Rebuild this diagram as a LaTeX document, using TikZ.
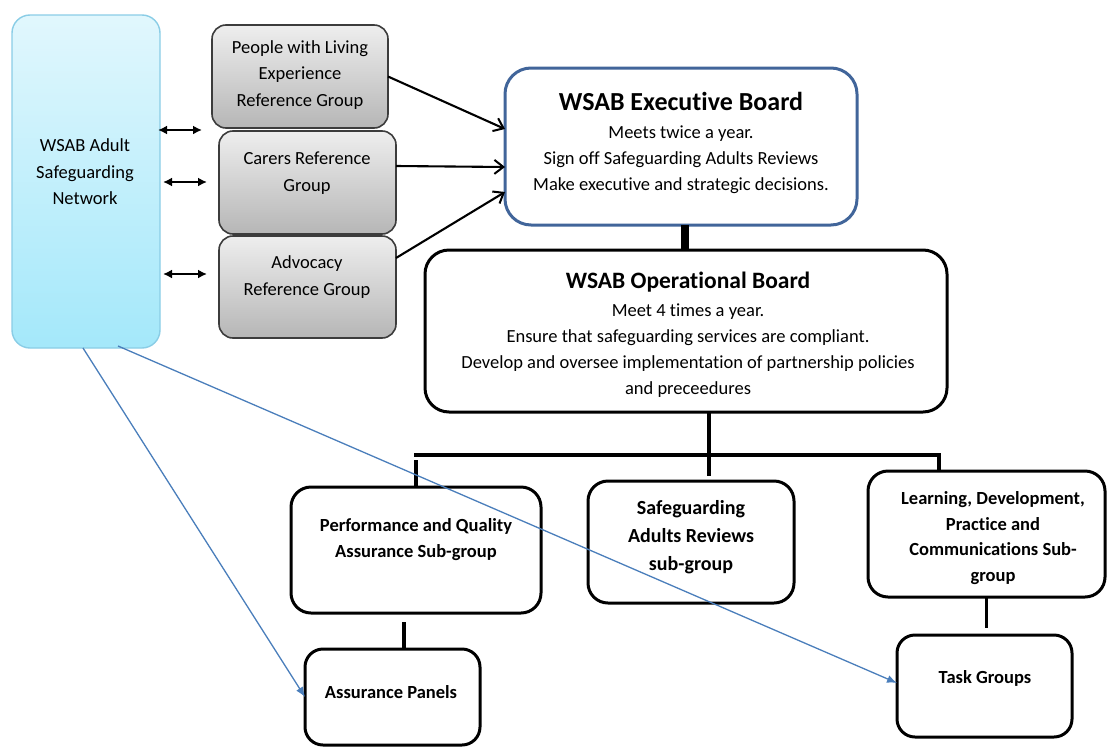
\documentclass[tikz,border=0pt]{standalone}
\usepackage{fontspec}
\setmainfont{Carlito}[Ligatures=NoCommon]
\usetikzlibrary{arrows.meta,fit}
\definecolor{netTop}{HTML}{E1F7FD}
\definecolor{netBot}{HTML}{A4E8FA}
\definecolor{netLine}{HTML}{8ACDE6}
\definecolor{refTop}{HTML}{EEEEEE}
\definecolor{refBot}{HTML}{B6B6B6}
\definecolor{refLine}{HTML}{3C3C3C}
\definecolor{execLine}{HTML}{41659A}
\definecolor{linkBlue}{HTML}{4A7EBB}
\begin{document}
\begin{tikzpicture}[x=1pt,y=-1pt,
  every node/.style={inner sep=0pt,outer sep=0pt},
  frame/.style={fit={#1},inner sep=0pt,draw=black,line width=3pt,rounded corners=20pt,fill=white},
  netbox/.style={frame={#1},draw=netLine,line width=1.4pt,rounded corners=18pt,top color=netTop,bottom color=netBot},
  refbox/.style={frame={#1},draw=refLine,line width=1.6pt,rounded corners=14pt,top color=refTop,bottom color=refBot},
  plain/.style={align=center,text=black,font=\fontsize{18.5}{26.5}\selectfont},
  boldtext/.style={align=center,text=black,font=\bfseries\fontsize{18.5}{26}\selectfont},
  link/.style={line width=3.4pt,line cap=butt},
  feed/.style={line width=2.1pt,-{Straight Barb[length=9pt,width=14pt,line width=2pt]}},
  both/.style={line width=2.2pt,{Latex[length=9pt,width=9pt]}-{Latex[length=9pt,width=9pt]}},
  bluelink/.style={draw=linkBlue,line width=1.3pt,-{Latex[length=10pt,width=8pt]}}
]
\useasboundingbox (0,0) rectangle (1107,747);

% network column and reference groups
\node[netbox={(12,15) (160,348)}] (net) {};
\node[refbox={(212,25) (388,128)}] (people) {};
\node[refbox={(219,131) (396,234)}] (carers) {};
\node[refbox={(219,236) (396,338)}] (advocacy) {};

\node[plain] (netT) at (85,172) {WSAB Adult\\Safeguarding\\Network};
\node[plain] (peopleT) at (300,75) {People with Living\\Experience\\Reference Group};
\node[plain,font=\fontsize{18.5}{27}\selectfont] (carersT) at (307,173) {Carers Reference\\Group};
\node[plain,font=\fontsize{18.5}{27}\selectfont] (advocacyT) at (307,277) {Advocacy\\Reference Group};

% boards
\node[frame={(505,68) (857,225)},draw=execLine,line width=3pt,rounded corners=26pt] (exec) {};
\node[boldtext,font=\bfseries\fontsize{26}{30}\selectfont] (execTitle) at (681,101) {WSAB Executive Board};
\node[plain,font=\fontsize{18.5}{25.8}\selectfont] (execT) at (681,160) {Meets twice a year.\\Sign off Safeguarding Adults Reviews\\Make executive and strategic decisions.};

\node[frame={(425,250) (947,412)},rounded corners=24pt] (op) {};
\node[boldtext,font=\bfseries\fontsize{23.5}{28}\selectfont] (opTitle) at (688,282) {WSAB Operational Board};
\node[plain,font=\fontsize{18.5}{26}\selectfont] (opT) at (688,351) {Meet 4 times a year.\\Ensure that safeguarding services are compliant.\\Develop and oversee implementation of partnership policies\\and preceedures};

% sub-groups
\node[frame={(291,487) (541,613)}] (perf) {};
\node[boldtext] (perfT) at (416,540) {Performance and Quality\\Assurance Sub-group};
\node[frame={(588,481) (794,603)}] (sar) {};
\node[boldtext,font=\bfseries\fontsize{20}{28}\selectfont] (sarT) at (691,537) {Safeguarding\\Adults Reviews\\sub-group};
\node[frame={(868,471) (1105,597)}] (learn) {};
\node[boldtext,font=\bfseries\fontsize{18.5}{25.5}\selectfont] (learnT) at (993,538) {Learning, Development,\\Practice and\\Communications Sub-\\group};

% groups below
\node[frame={(305,649) (480,745)},rounded corners=18pt] (assur) {};
\node[boldtext] (assurT) at (391,692) {Assurance Panels};
\node[frame={(897,635) (1072,737)},rounded corners=18pt] (task) {};
\node[boldtext] (taskT) at (985,678) {Task Groups};

% two-way links between the network and the reference groups
\coordinate (a1) at (158,130); \coordinate (b1) at (202,130);
\coordinate (a2) at (163,182); \coordinate (b2) at (207,182);
\coordinate (a3) at (163,274); \coordinate (b3) at (207,274);
\draw[both] (a1) -- (b1);
\draw[both] (a2) -- (b2);
\draw[both] (a3) -- (b3);

% reference groups feed the executive board
\draw[feed] (people.east) -- ([yshift=17.5pt]exec.west);
\draw[feed] ([yshift=16.5pt]carers.east) -- ([yshift=-20.5pt]exec.west);
\draw[feed] ([yshift=29pt]advocacy.east) -- ([yshift=-45.5pt]exec.west);

% executive to operational
\draw[line width=8pt] ([xshift=4pt]exec.south) -- ([xshift=4pt]exec.south |- op.north);

% operational board to the sub-groups
\coordinate (busL) at (416,455);
\coordinate (busM) at (709,455);
\coordinate (busR) at (939,455);
\draw[link] ([xshift=-1.7pt]busL) -- ([xshift=1.7pt]busR);
\draw[link] ([yshift=-5pt]busL) -- (perf.north -| busL);
\draw[link] (busR) -- (learn.north -| busR);
\draw[link] (op.south -| busM) -- (busM) -- ([yshift=5pt]sar.north -| busM);

% sub-groups to their groups
\draw[link] ([xshift=-12pt,yshift=-9pt]perf.south) -- ([xshift=-12pt]perf.south |- assur.north);
\draw[link] (learn.south) -- ([yshift=7pt]task.north -| learn.south);

% network links down to the groups
\draw[bluelink] ([xshift=-3pt]net.south) -- ([yshift=0pt]assur.west);
\draw[bluelink] ([xshift=32pt,yshift=2pt]net.south) -- ([yshift=3pt]task.west);
\end{tikzpicture}
\end{document}
